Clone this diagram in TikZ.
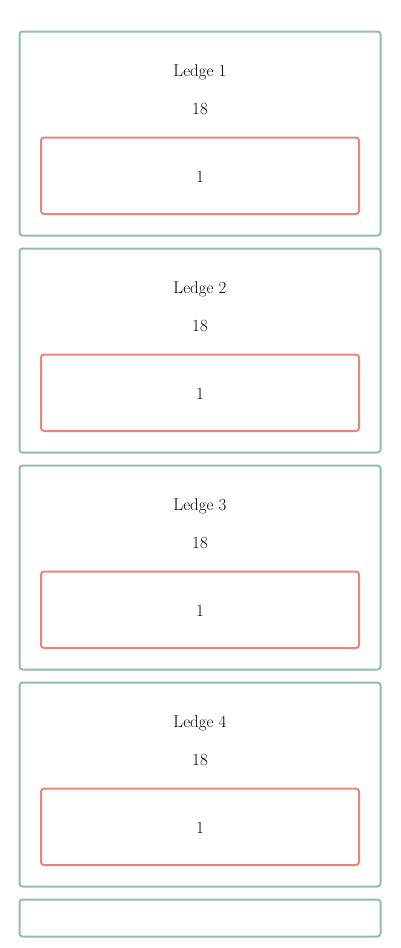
\documentclass[tikz,border=0pt]{standalone}
\usepackage{fontspec}
\definecolor{ledgegreen}{HTML}{8DC0A5}
\definecolor{slotred}{HTML}{E8867A}
\begin{document}
\begin{tikzpicture}[x=1pt,y=-1pt,
  ledgebox/.style={draw=ledgegreen,line width=2pt,rounded corners=3pt,minimum width=361pt,inner sep=0pt,outer sep=0pt,anchor=north west},
  slotbox/.style={draw=slotred,line width=2pt,rounded corners=3pt,minimum width=318pt,minimum height=76.5pt,inner sep=0pt,outer sep=0pt,anchor=north west},
  lbl/.style={anchor=base,inner sep=0pt,font=\fontsize{17pt}{20pt}\selectfont}]
\useasboundingbox (0,0) rectangle (400,948);
\foreach \i in {1,2,3,4}{
  \pgfmathsetmacro{\t}{31+217*(\i-1)}
  \node[ledgebox,minimum height=204pt] (L\i) at (19.5,\t+0.5) {};
  \node[slotbox] (S\i) at (41,\t+106.5) {};
  \node[lbl] (T\i) at (200,\t+45) {Ledge \i};
  \node[lbl] (N\i) at (200,\t+83.5) {18};
  \node[lbl] (C\i) at (200,\t+151) {1};
}
\node[ledgebox,minimum height=37pt] (L5) at (19.5,899.5) {};
\end{tikzpicture}
\end{document}
